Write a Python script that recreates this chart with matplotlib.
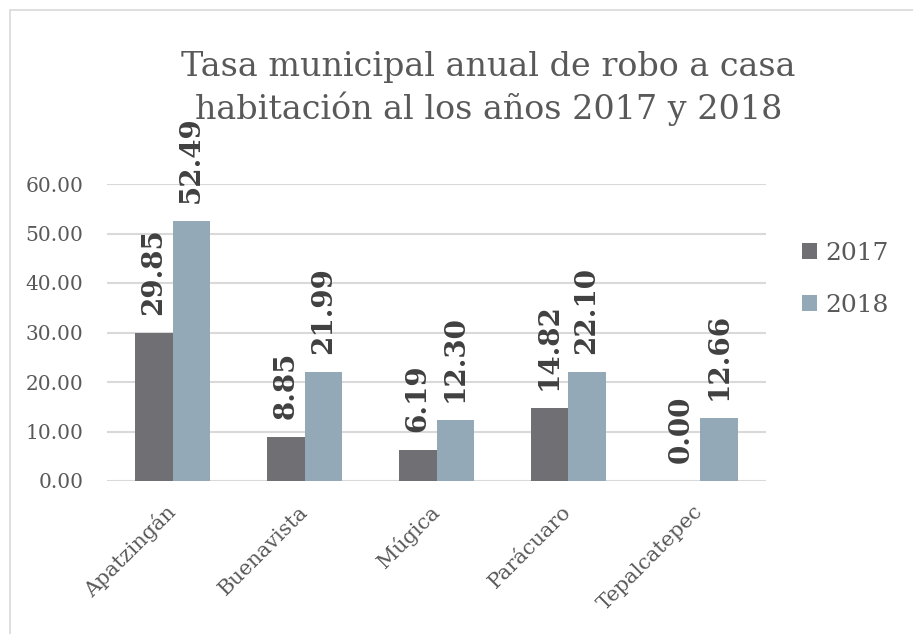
import numpy as np
import matplotlib
matplotlib.use('Agg')
import matplotlib.pyplot as plt
from matplotlib.patches import Rectangle

municipios = ['Apatzingán', 'Buenavista', 'Múgica', 'Parácuaro', 'Tepalcatepec']
tasa_2017 = [29.85, 8.85, 6.19, 14.82, 0.00]
tasa_2018 = [52.49, 21.99, 12.30, 22.10, 12.66]

gris = '#706f74'
azul = '#94a9b8'
texto = '#595959'
rejilla = '#d9d9d9'

plt.rcParams['font.family'] = ['DejaVu Serif']

fig = plt.figure(figsize=(9.13, 6.34), dpi=100)
ax = fig.add_axes([107/913, 1-481/634, (766-107)/913, (481-184)/634])

# marco exterior del grafico
fig.patches.append(Rectangle((10/913, -0.1), 1.2, 1-10/634+0.1, transform=fig.transFigure,
                             fill=False, edgecolor=rejilla, linewidth=1.2))

x = np.arange(len(municipios))
w = 0.285
b1 = ax.bar(x - w/2, tasa_2017, w, color=gris, label='2017', zorder=3)
b2 = ax.bar(x + w/2, tasa_2018, w, color=azul, label='2018', zorder=3)

for barras in (b1, b2):
	for r in barras:
		h = r.get_height()
		ax.annotate('%.2f' % h, (r.get_x() + r.get_width()/2, h), xytext=(0, 13),
					textcoords='offset points', rotation=90, ha='center', va='bottom',
					fontsize=20, fontweight='bold', color='#404040')

ax.set_ylim(0, 60)
ax.set_xlim(-0.5, len(municipios) - 0.5)
ax.set_yticks(np.arange(0, 61, 10))
ax.set_yticklabels(['%.2f' % v for v in np.arange(0, 61, 10)], fontsize=14.5, color=texto)
ax.tick_params(axis='y', length=0, pad=17)
ax.set_xticks(x)
ax.set_xticklabels(municipios, rotation=45, ha='right', va='center', rotation_mode='anchor',
				   fontsize=15, color=texto)
ax.tick_params(axis='x', length=0, pad=20)
ax.grid(axis='y', color=rejilla, linewidth=1.5, zorder=0)
for s in ax.spines.values():
	s.set_visible(False)

fig.text(0.535, 1-67/634, 'Tasa municipal anual de robo a casa', ha='center', va='center',
		 fontsize=24, color=texto)
fig.text(0.535, 1-109/634, 'habitación al los años 2017 y 2018', ha='center', va='center',
		 fontsize=24, color=texto)

ax.legend(loc='upper left', bbox_to_anchor=(1.02, 0.88), frameon=False, fontsize=18,
		  handlelength=0.6, handleheight=0.6, handletextpad=0.35, labelspacing=1.15,
		  labelcolor=texto)

plt.savefig('out.png', dpi=100)
